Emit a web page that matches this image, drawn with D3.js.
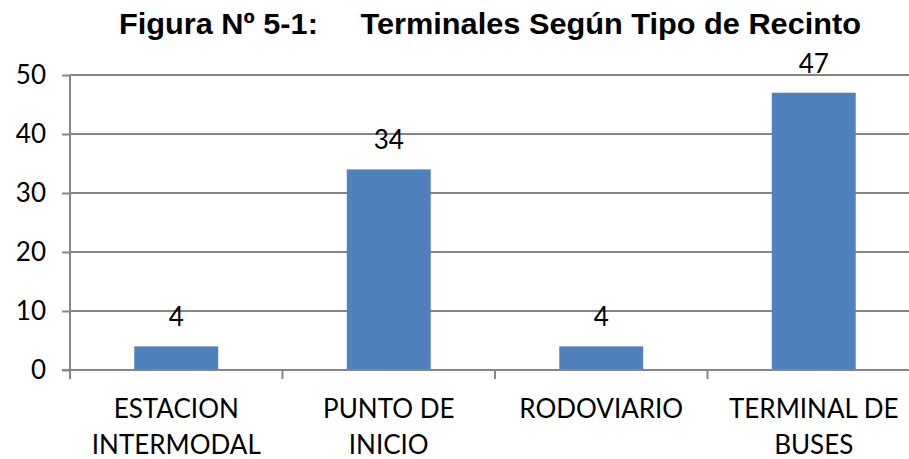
<!DOCTYPE html>
<html><head><meta charset="utf-8">
<script src="https://cdn.jsdelivr.net/npm/d3@7"></script>
<style>html,body{margin:0;padding:0;background:#fff;}svg{display:block;}</style>
</head><body>
<script>
const categories = [["ESTACION","INTERMODAL"],["PUNTO DE","INICIO"],["RODOVIARIO"],["TERMINAL DE","BUSES"]];
const values = [4, 34, 4, 47];
const yTicks = [0, 10, 20, 30, 40, 50];
const title = "Figura Nº 5-1:     Terminales Según Tipo de Recinto";

(function () {
const W = 909, H = 459;
const svg = d3.select("body").append("svg").attr("width", W).attr("height", H);
const mLeft = 70, mRight = 920, mTop = 75, mBottom = 370;
const x = d3.scaleBand().domain(d3.range(categories.length)).range([mLeft, mRight]).padding(0);
const y = d3.scaleLinear().domain([0, 50]).range([mBottom, mTop]);
const grey = "#868686";
const font = "Lato, 'Open Sans', sans-serif";

// gridlines
svg.append("g").selectAll("line").data(yTicks.filter(d => d > 0)).join("line")
  .attr("x1", mLeft).attr("x2", W).attr("y1", d => y(d)).attr("y2", d => y(d))
  .attr("stroke", grey).attr("stroke-width", 2);

// bars
const bw = x.bandwidth() * 0.395;
svg.append("g").selectAll("rect").data(values).join("rect")
  .attr("x", (d, i) => x(i) + x.bandwidth() / 2 - bw / 2)
  .attr("width", bw)
  .attr("y", d => y(d)).attr("height", d => y(0) - y(d))
  .attr("fill", "#4F81BD");

// y axis
const ya = svg.append("g").attr("transform", `translate(${mLeft},0)`)
  .call(d3.axisLeft(y).tickValues(yTicks).tickSize(8).tickPadding(16));
ya.select(".domain").attr("stroke", grey).attr("stroke-width", 2).attr("d", `M0,${mBottom}V${mTop}`);
ya.selectAll(".tick line").attr("stroke", grey).attr("stroke-width", 2);
ya.selectAll(".tick text").attr("font-family", font).attr("font-size", 26).attr("fill", "#000");

// x axis
svg.append("line").attr("x1", mLeft - 8).attr("x2", W).attr("y1", mBottom).attr("y2", mBottom)
  .attr("stroke", grey).attr("stroke-width", 2);
svg.append("g").selectAll("line").data(d3.range(categories.length + 1)).join("line")
  .attr("x1", i => mLeft + i * x.step()).attr("x2", i => mLeft + i * x.step())
  .attr("y1", mBottom).attr("y2", mBottom + 9).attr("stroke", grey).attr("stroke-width", 2);

const lbl = svg.append("g").selectAll("text").data(categories).join("text")
  .attr("text-anchor", "middle").attr("font-family", font).attr("font-size", 26).attr("fill", "#000")
  .attr("x", (d, i) => x(i) + x.bandwidth() / 2);
lbl.selectAll("tspan").data(d => d).join("tspan")
  .attr("x", function () { return this.parentNode.getAttribute("x"); })
  .attr("y", (d, j) => 418 + j * 36).text(d => d);

// value labels
svg.append("g").selectAll("text").data(values).join("text")
  .attr("text-anchor", "middle").attr("font-family", font).attr("font-size", 26).attr("fill", "#000")
  .attr("x", (d, i) => x(i) + x.bandwidth() / 2).attr("y", d => y(d) - 20).text(d => d);

// title
svg.append("text").attr("x", 490).attr("y", 34).attr("text-anchor", "middle")
  .attr("font-family", "'Liberation Sans Narrow', 'Arial Narrow', 'Liberation Sans', Arial, sans-serif")
  .attr("font-weight", "bold").attr("font-size", 30).attr("fill", "#000")
  .style("white-space", "pre").attr("textLength", 742).attr("lengthAdjust", "spacingAndGlyphs")
  .text(title);
})();
</script>
</body></html>
